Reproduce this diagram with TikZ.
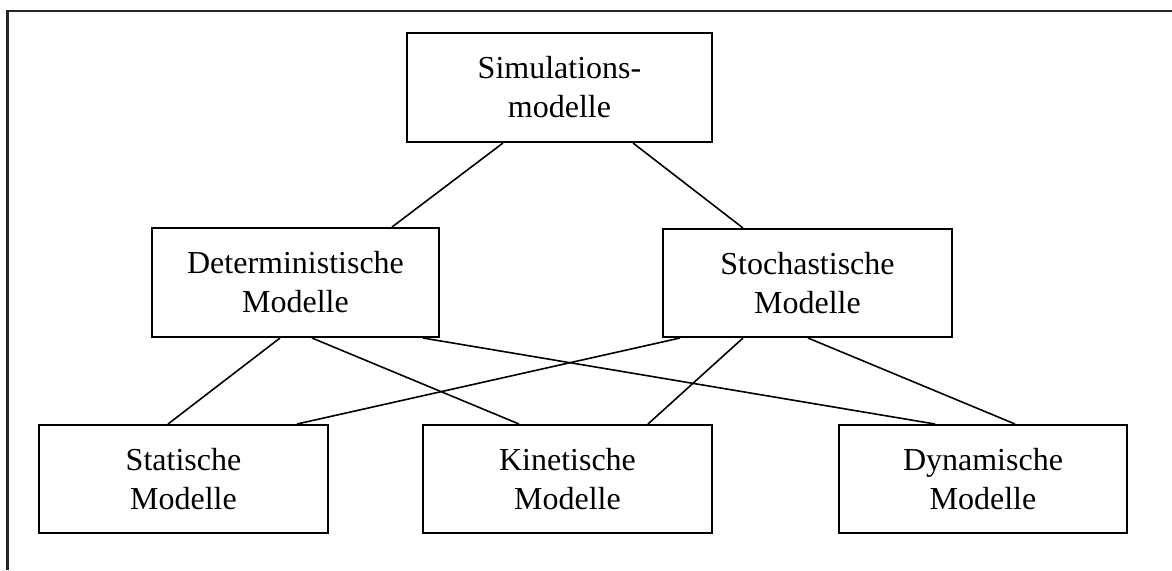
\documentclass[tikz,border=0pt]{standalone}
\usepackage{fontspec}
\setmainfont{Liberation Serif}

\begin{document}
\begin{tikzpicture}[x=0.5pt,y=-0.5pt,
    box/.style={draw,line width=1pt,rectangle,align=center,inner sep=0pt,
        font=\fontsize{16}{19.5}\selectfont},
    link/.style={line width=0.8pt}]
            \useasboundingbox (0,0) rectangle (1172,570);
            \draw[line width=1.3pt,black!85] (7.5,570) -- (7.5,11) -- (1172,11);

            \node (sim) at (559.5,87.5) [box,minimum width=152.5pt,minimum height=54.5pt] {Simulations-\\modelle};
            \node (det) at (295.5,282.5) [box,minimum width=143.5pt,minimum height=54.5pt] {Deterministische\\Modelle};
            \node (sto) at (807.5,283) [box,minimum width=144.5pt,minimum height=54pt] {Stochastische\\Modelle};
            \node (sta) at (183.5,479) [box,minimum width=144.5pt,minimum height=54pt] {Statische\\Modelle};
            \node (kin) at (567.5,479) [box,minimum width=144.5pt,minimum height=54pt] {Kinetische\\Modelle};
            \node (dyn) at (983,479) [box,minimum width=144pt,minimum height=54pt] {Dynamische\\Modelle};

            \draw[link] ([xshift=-28.25pt]sim.south) -- ([xshift=48.25pt]det.north);
            \draw[link] ([xshift=36.75pt]sim.south) -- ([xshift=-32.25pt]sto.north);

            \draw[link] ([xshift=-7.75pt]det.south) -- ([xshift=-7.75pt]sta.north);
            \draw[link] ([xshift=8.25pt]det.south) -- ([xshift=-24.25pt]kin.north);
            \draw[link] ([xshift=63.75pt]det.south) -- ([xshift=-24pt]dyn.north);

            \draw[link] ([xshift=-63.75pt]sto.south) -- ([xshift=56.75pt]sta.north);
            \draw[link] ([xshift=-32.25pt]sto.south) -- ([xshift=40.25pt]kin.north);
            \draw[link] ([xshift=0.25pt]sto.south) -- ([xshift=16pt]dyn.north);

        \end{tikzpicture}
\end{document}
